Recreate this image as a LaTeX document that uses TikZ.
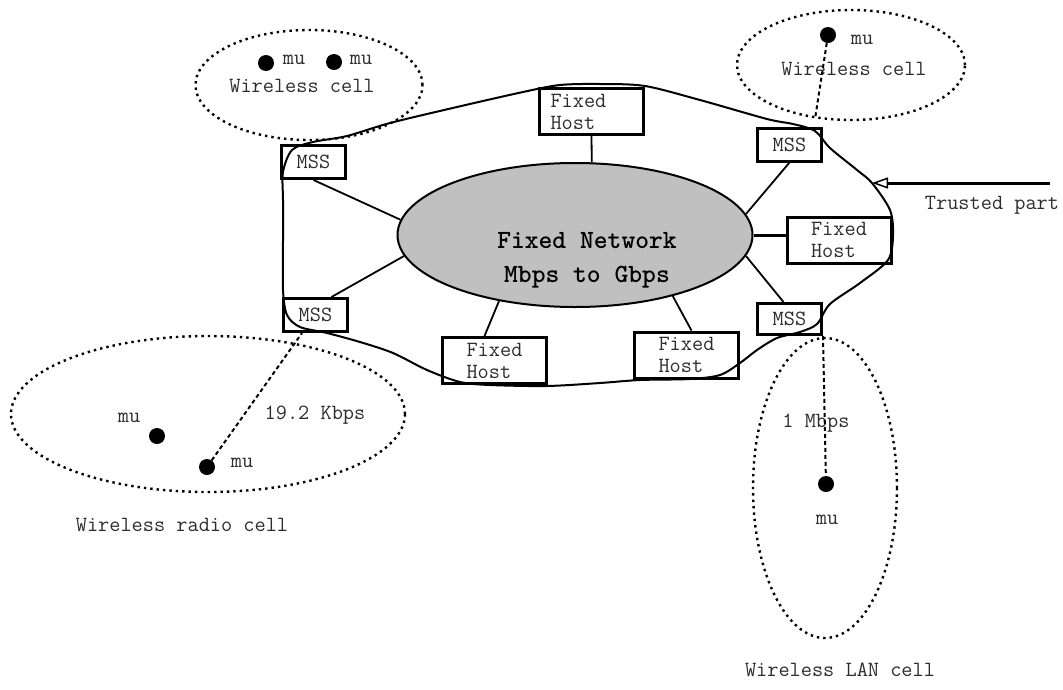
\documentclass[tikz,border=0pt]{standalone}
\usepackage{fontspec}
\usetikzlibrary{shapes.geometric,arrows.meta}
\definecolor{netgray}{RGB}{192,192,192}
\definecolor{txt}{RGB}{45,45,45}
\begin{document}
\begin{tikzpicture}[x=1pt,y=-1pt,
 every node/.style={font=\ttfamily\fontsize{21.7}{22}\selectfont, text=txt},
 mss/.style={draw=black, line width=3pt, minimum width=64pt, minimum height=33pt, inner sep=0pt},
 fh/.style={draw=black, line width=3pt, minimum width=104pt, minimum height=46pt, inner sep=0pt, align=left},
 cell/.style={draw=black, ellipse, line width=2.4pt, dash pattern=on 2.4pt off 4pt, inner sep=0pt},
 dotlink/.style={line width=2pt, dash pattern=on 4pt off 3pt},
 link/.style={line width=1.8pt},
 mudot/.style={circle, fill=black, minimum size=16pt, inner sep=0pt},
 lbl/.style={inner sep=0pt}
]
\useasboundingbox (0,0) rectangle (1063,689);

% wireless cells
\node[cell, minimum width=227pt, minimum height=110pt] (celltl) at (309,85) {};
\node[cell, minimum width=228pt, minimum height=110pt] (celltr) at (851,65) {};
\node[cell, minimum width=394pt, minimum height=156pt] (cellbl) at (208,414) {};
\node[cell, minimum width=144pt, minimum height=300pt] (cellbr) at (825,488) {};

% fixed network
\node[ellipse, draw=black, fill=netgray, line width=2pt, minimum width=355pt, minimum height=144pt, inner sep=0pt] (fn) at (575,235) {};
\node[font=\ttfamily\fontsize{26.3}{34}\selectfont\bfseries, text=black, align=center, inner sep=0pt] (fnlbl) at (587,260) {Fixed Network\\Mbps to Gbps};

% trusted boundary
\draw[line width=2pt] plot[smooth cycle, tension=0.5] coordinates {
 (283,172) (292,150) (313,142) (347,136) (390,123) (457,107) (523,92) (560,85) (600,84) (645,86)
 (700,100) (767,119) (793,124) (815,131) (830,148) (857,170) (872,183) (890,210) (893,235)
 (888,260) (860,283) (830,304) (817,324) (800,332) (777,338) (757,350) (740,363) (720,375)
 (690,379) (640,380) (600,383) (547,386) (490,385) (460,382) (427,370) (393,353) (360,342)
 (327,333) (300,327) (287,315) (283,290) (283,240) (283,200)};

% boxes
\node[mss] (msstl) at (313.5,162) {MSS};
\node[mss] (mssbl) at (315.5,315) {MSS};
\node[mss] (msstr) at (789.5,144.5) {MSS};
\node[mss, minimum height=31pt] (mssbr) at (789.5,319) {MSS};
\node[fh, text width=82pt, inner xsep=11pt] (fhtop) at (591.5,111.5) {Fixed\\Host};
\node[fh] (fhbl) at (494.5,360.5) {Fixed\\Host};
\node[fh] (fhbr) at (686.5,355) {Fixed\\Host};
\node[fh] (fhr) at (839,240) {Fixed\\Host};

% links
\draw[link] (msstl.south) -- (fn.175);
\draw[link] ([xshift=16pt]mssbl.north) -- (fn.187);
\draw[link] ([xshift=-10pt]fhbl.north) -- (fn.221);
\draw[link] ([xshift=5pt]fhbr.north) -- (fn.328);
\draw[link] (fhtop.south) -- (fn.77);
\draw[link] (msstr.south) -- (fn.7);
\draw[line width=3pt] (fn.east) -- (fn.east -| fhr.west);
\draw[link] ([xshift=-6pt]mssbr.north) -- (fn.353);

% top-left cell
\node[mudot] (mu1) at (266,63) {};
\node[lbl] (mu1l) at (294,60) {mu};
\node[mudot] (mu2) at (334,62) {};
\node[lbl] (mu2l) at (361,60) {mu};
\node[lbl] (celltll) at (302,86) {Wireless cell};

% top-right cell
\node[mudot] (mu3) at (828,35) {};
\node[lbl] (mu3l) at (862,40) {mu};
\node[lbl] (celltrl) at (854,69) {Wireless cell};
\coordinate (trend) at (815,119);
\draw[dotlink] (mu3) -- (trend);

% bottom-left cell
\node[lbl] (mu4l) at (129,418) {mu};
\node[mudot] (mu4) at (157,436) {};
\node[mudot] (mu5) at (207,467) {};
\node[lbl] (mu5l) at (242,463) {mu};
\node[lbl] (kbps) at (315,415) {19.2 Kbps};
\draw[dotlink] (mu5) -- ([xshift=-13.5pt]mssbl.south);
\node[lbl] (cellbll) at (182,525) {Wireless radio cell};

% bottom-right cell
\node[lbl] (mbps) at (816,423) {1 Mbps};
\node[mudot] (mu6) at (826,484) {};
\node[lbl] (mu6l) at (827,520) {mu};
\draw[dotlink] (mssbr.south east) -- (mu6);
\node[lbl] (cellbrl) at (840,670) {Wireless LAN cell};

% trusted part
\coordinate (tpstart) at (1050,183);
\coordinate (tptip) at (872,183);
\draw[line width=3pt, -{Triangle[open, length=16pt, width=11pt, line width=1.5pt]}] (tpstart) -- (tptip);
\node[lbl] (tplbl) at (992,205) {Trusted part};
\end{tikzpicture}
\end{document}
